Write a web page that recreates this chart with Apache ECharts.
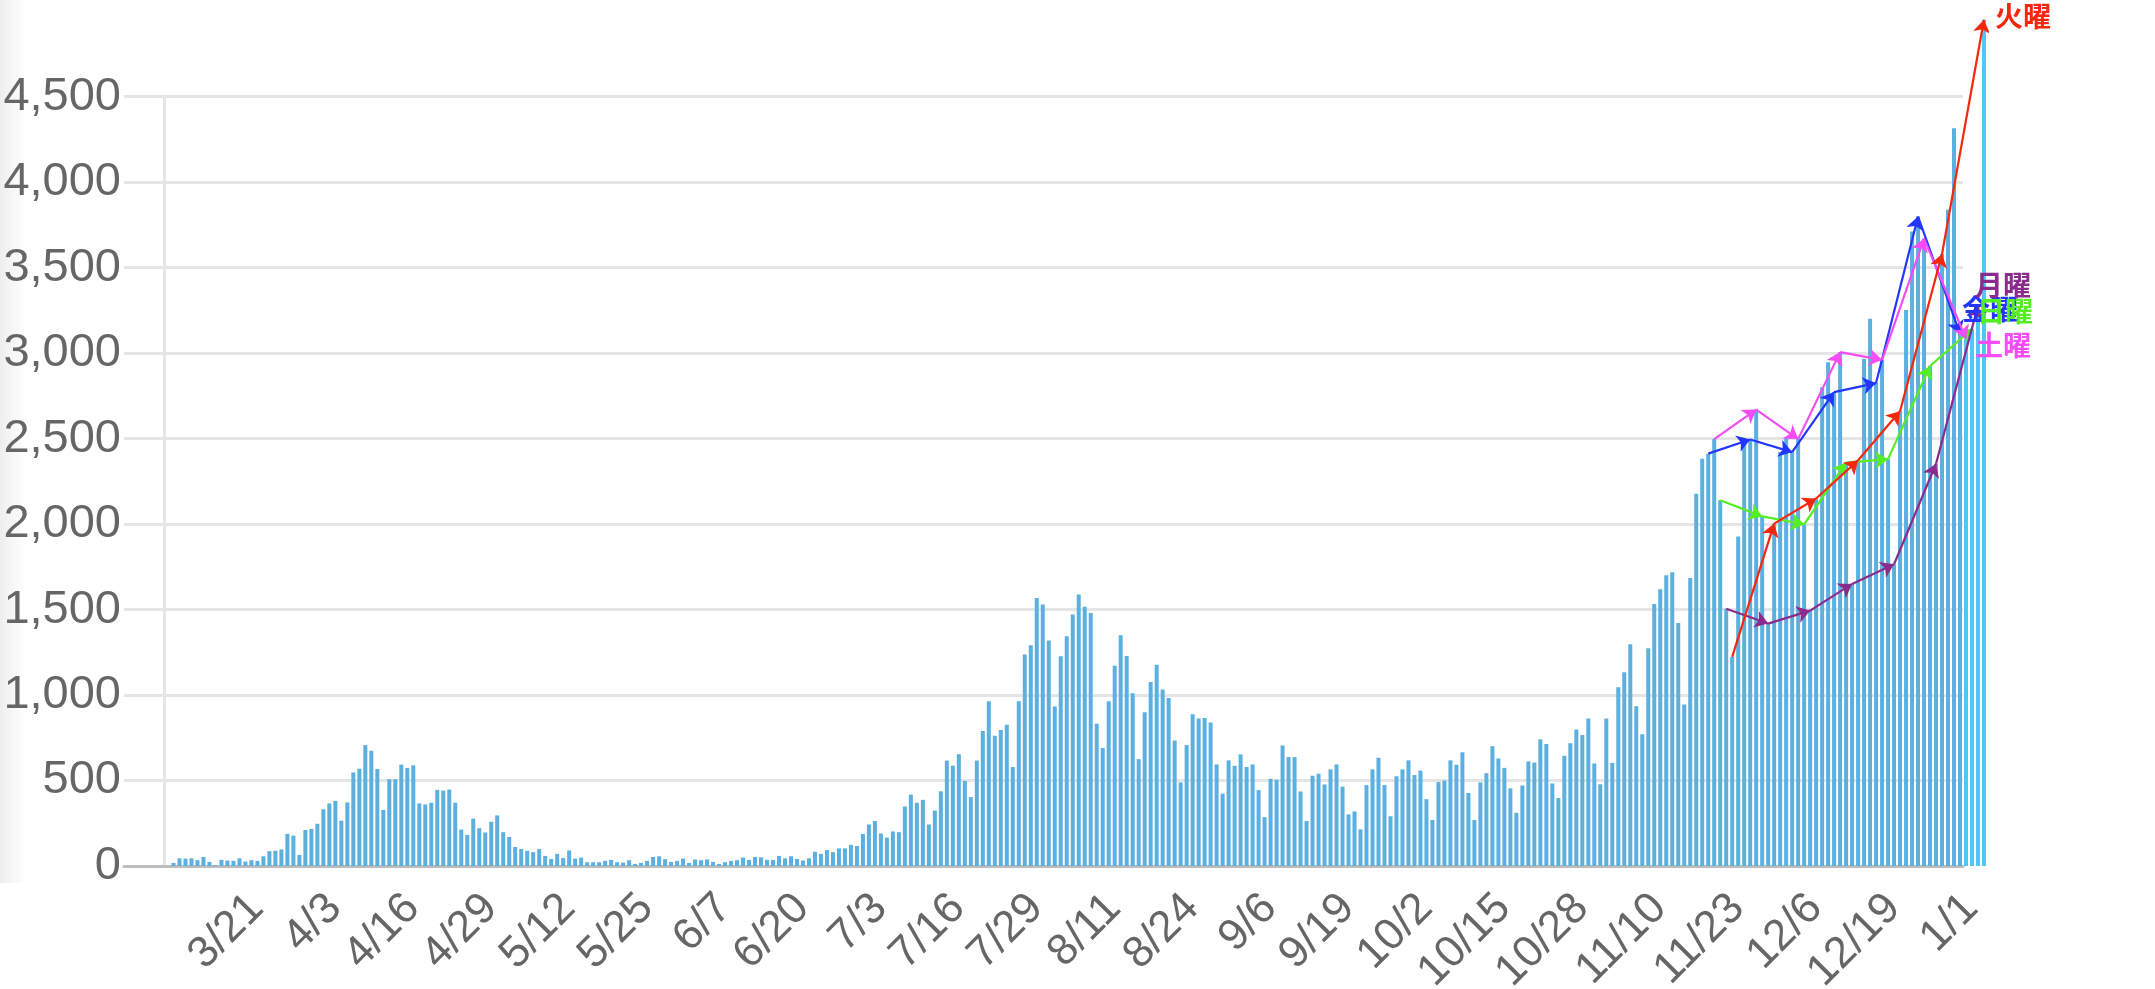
<!DOCTYPE html>
<html><head><meta charset="utf-8">
<script src="https://cdn.jsdelivr.net/npm/echarts@6/dist/echarts.min.js"></script>
<style>
html,body{margin:0;padding:0;background:#fff;}
#shade{position:absolute;left:0;top:0;width:26px;height:883px;background:linear-gradient(to right,#eeeeee,rgba(255,255,255,0));}
#chart{position:absolute;left:0;top:0;width:2155px;height:989px;}
</style></head><body>
<div id="shade"></div>
<div id="chart"></div>
<script>
// ---- data ----
const firstDay = '2020-03-08';
const dailyCases = [
  0,
  18, 45, 43, 45, 34, 53, 24, 6, 36, 32,
  30, 45, 26, 34, 30, 57, 87, 89, 97, 188,
  178, 65, 211, 217, 247, 332, 366, 381, 265, 372,
  547, 569, 707, 674, 567, 328, 508, 508, 593, 573,
  589, 366, 360, 370, 445, 441, 447, 370, 213, 182,
  277, 221, 196, 259, 296, 198, 170, 111, 99, 89,
  81, 99, 59, 41, 71, 47, 91, 43, 49, 22,
  22, 22, 30, 36, 22, 20, 34, 12, 18, 30,
  53, 57, 40, 24, 30, 43, 18, 38, 34, 38,
  24, 12, 22, 30, 34, 49, 36, 53, 51, 36,
  36, 59, 45, 57, 41, 32, 45, 83, 71, 93,
  81, 103, 103, 124, 117, 188, 243, 263, 190, 166,
  202, 198, 348, 417, 370, 387, 243, 324, 437, 617,
  587, 654, 498, 403, 617, 789, 964, 762, 795, 826,
  579, 964, 1237, 1292, 1568, 1529, 1319, 933, 1227, 1344,
  1471, 1588, 1517, 1480, 832, 690, 964, 1171, 1350, 1229,
  1011, 625, 900, 1077, 1177, 1032, 982, 734, 489, 707,
  888, 863, 865, 840, 594, 423, 618, 586, 653, 579,
  594, 444, 286, 510, 505, 705, 637, 637, 436, 263,
  528, 540, 477, 565, 594, 464, 302, 319, 214, 473,
  565, 633, 474, 291, 525, 565, 618, 532, 558, 391,
  269, 491, 500, 618, 592, 665, 427, 269, 489, 543,
  701, 629, 574, 454, 311, 471, 612, 605, 741, 714,
  483, 398, 645, 718, 798, 767, 863, 600, 478, 863,
  603, 1045, 1134, 1297, 934, 770, 1274, 1532, 1619, 1701,
  1719, 1421, 945, 1684, 2178, 2382, 2412, 2497, 2140, 1505,
  1223, 1928, 2500, 2495, 2670, 2045, 1418, 2003, 2421, 2503,
  2421, 2497, 1999, 1494, 2150, 2801, 2947, 2772, 3006, 2360,
  1650, 2373, 2967, 3201, 2825, 2961, 2380, 1765, 2660, 3253,
  3711, 3799, 3670, 2925, 2353, 3580, 3838, 4315, 3113
];
const addedCases = [3084, 3142, 3278, 4950];          // 1/2 .. 1/5
const yTickValues = [0, 500, 1000, 1500, 2000, 2500, 3000, 3500, 4000, 4500];
const weekdayNames = ['金曜', '日曜', '土曜', '月曜', '火曜'];
const weekdayFirstIndex = [257, 259, 258, 260, 261];  // Fri, Sun, Sat, Mon, Tue (from 11/20)

// ---- styles ----
const weekdayColors = ['#2336ff', '#55ee22', '#f64cf6', '#8b2b8e', '#f5270c'];
const labelShift = [[2, -24], [5, -17], [9, 7], [-3, -20], [11, -3]];

// ---- derived ----
const allCases = dailyCases.concat(addedCases);
const categories = [];
{
  const d = new Date(firstDay + 'T00:00:00');
  for (let i = 0; i < allCases.length; i++) {
    categories.push((d.getMonth() + 1) + '/' + d.getDate());
    d.setDate(d.getDate() + 1);
  }
}
const N = dailyCases.length, M = allCases.length;
const yMax = yTickValues[yTickValues.length - 1];
const yStep = yTickValues[1] - yTickValues[0];
const yMaxOverlay = 5000;

const W = 2155, H = 989;
const plotLeft = 164.5, plotRight = 1963, gridTop = 96.7, base = 866, axisLeft = 124;
const colW = (plotRight - plotLeft) / N;
const topOverlay = base - (base - gridTop) * yMaxOverlay / yMax;

const series = [
  { type: 'bar', xAxisIndex: 1, yAxisIndex: 1, data: dailyCases, barWidth: 4,
    itemStyle: { color: '#5cb0e0' }, silent: true, z: 2 },
  { type: 'bar', xAxisIndex: 2, yAxisIndex: 2,
    data: dailyCases.map(() => '-').concat(addedCases), barWidth: 4,
    itemStyle: { color: '#4fc8f8' }, silent: true, z: 2 }
];
const endPoints = [];
weekdayNames.forEach((name, w) => {
  const segs = [];
  let k = weekdayFirstIndex[w];
  let last = k;
  while (k + 7 < M) {
    segs.push({ coords: [[k, allCases[k]], [k + 7, allCases[k + 7]]] });
    k += 7; last = k;
  }
  endPoints.push([last, allCases[last]]);
  series.push({
    type: 'lines', coordinateSystem: 'cartesian2d', xAxisIndex: 2, yAxisIndex: 2,
    data: segs, symbol: ['none', 'arrow'], symbolSize: 13, silent: true, z: 5,
    lineStyle: { color: weekdayColors[w], width: 2.2, opacity: 1, curveness: 0 }
  });
});

const gridBase = { bottom: H - base, outerBoundsMode: 'none', containLabel: false };
const chart = echarts.init(document.getElementById('chart'), null, { renderer: 'canvas' });
chart.setOption({
  animation: false,
  backgroundColor: 'transparent',
  grid: [
    Object.assign({ left: axisLeft, right: W - plotRight, top: gridTop }, gridBase),
    Object.assign({ left: plotLeft, right: W - plotRight, top: gridTop }, gridBase),
    Object.assign({ left: plotLeft, right: W - plotLeft - colW * M, top: topOverlay }, gridBase)
  ],
  xAxis: [
    { gridIndex: 0, type: 'value', min: 0, max: 1,
      axisLine: { show: true, lineStyle: { color: '#bdbdbd', width: 3 } },
      axisTick: { show: false }, axisLabel: { show: false }, splitLine: { show: false } },
    { gridIndex: 1, type: 'category', data: categories.slice(0, N), boundaryGap: true,
      axisLine: { show: false }, axisTick: { show: false }, splitLine: { show: false },
      axisLabel: { interval: (i) => i > 0 && i % 13 === 0, rotate: 45, fontSize: 44,
        color: '#666', margin: 24, verticalAlign: 'top', lineHeight: 32,
        fontFamily: 'Liberation Sans, Arial, sans-serif' } },
    { gridIndex: 2, type: 'category', data: categories, boundaryGap: true, show: false }
  ],
  yAxis: [
    { gridIndex: 0, type: 'value', min: 0, max: yMax, interval: yStep,
      axisLine: { show: false }, axisTick: { show: false },
      axisLabel: { fontSize: 47, color: '#666', margin: 3,
        fontFamily: 'Liberation Sans, Arial, sans-serif',
        formatter: (v) => v.toLocaleString('en-US') },
      splitLine: { show: true, lineStyle: { color: '#e5e5e5', width: 3 } } },
    { gridIndex: 1, type: 'value', min: 0, max: yMax,
      axisLine: { show: true, lineStyle: { color: '#e5e5e5', width: 3 } },
      axisTick: { show: false }, axisLabel: { show: false }, splitLine: { show: false } },
    { gridIndex: 2, type: 'value', min: 0, max: yMaxOverlay, show: false }
  ],
  series: series
});

// weekday end labels, placed at each line's last point
const labels = weekdayNames.map((name, w) => {
  const p = chart.convertToPixel({ gridIndex: 2 }, endPoints[w]);
  return {
    type: 'text', z: 100 + w, silent: true,
    x: p[0] + labelShift[w][0], y: p[1] + labelShift[w][1],
    style: { text: name, fill: weekdayColors[w], fontSize: 28, fontWeight: 'bold',
      fontFamily: 'Noto Sans CJK JP', align: 'left', verticalAlign: 'middle' }
  };
});
chart.setOption({ graphic: labels });
</script>
</body></html>
